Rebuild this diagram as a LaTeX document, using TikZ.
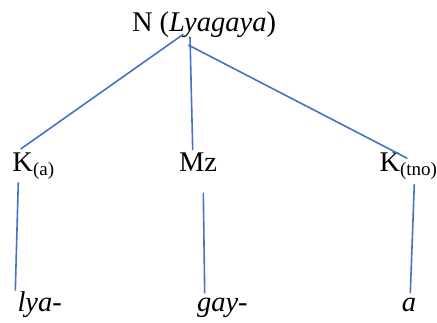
\documentclass[tikz,border=0pt]{standalone}
\usepackage{fontspec}
\newfontfamily\timesf{Liberation Serif}
\definecolor{wordblue}{HTML}{4472C4}
\newcommand{\subtxt}[1]{\raisebox{-3.5pt}{\fontsize{19}{19}\selectfont #1}}
\newcommand{\lbltxt}[1]{{\timesf\fontsize{28.5}{34}\selectfont #1}}
\begin{document}
\begin{tikzpicture}[x=1pt,y=-1pt,
  lbl/.style={inner sep=0pt, outer sep=0pt},
  branch/.style={draw=wordblue, line width=1.6pt}]
\useasboundingbox (0,0) rectangle (437,322);
% labels
\node[lbl, anchor=base] (N) at (204,31) {\lbltxt{N (\textit{Lyagaya})}};
\node[lbl, anchor=base west] (Ka) at (12.5,171.5) {\lbltxt{K\subtxt{(a)}}};
\node[lbl, anchor=base west] (Mz) at (179,171.5) {\lbltxt{Mz}};
\node[lbl, anchor=base west] (Ktno) at (379.5,171.5) {\lbltxt{K\subtxt{(tno)}}};
\node[lbl, anchor=base west] (lya) at (17.5,311.5) {\lbltxt{\textit{lya-}}};
\node[lbl, anchor=base west] (gay) at (197,311.5) {\lbltxt{\textit{gay-}}};
\node[lbl, anchor=base] (a) at (409,311.5) {\lbltxt{\textit{a}}};
% connector end points
\coordinate (n1) at (183.3,34.3);
\coordinate (n2) at (190,36.7);
\coordinate (n3) at (188.3,45);
\coordinate (ka1) at (20.7,149);
\coordinate (mz1) at (192.7,150);
\coordinate (kt1) at (407.3,158.3);
\coordinate (ka2) at (18.3,182.3);
\coordinate (lya1) at (15.3,290.7);
\coordinate (mz2) at (203.3,192.7);
\coordinate (gay1) at (204.7,293.3);
\coordinate (kt2) at (414.3,184.3);
\coordinate (a1) at (410.3,293.3);
% connectors
\draw[branch] (n1) -- (ka1);
\draw[branch] (n2) -- (mz1);
\draw[branch] (n3) -- (kt1);
\draw[branch] (ka2) -- (lya1);
\draw[branch] (mz2) -- (gay1);
\draw[branch] (kt2) -- (a1);
\end{tikzpicture}
\end{document}
